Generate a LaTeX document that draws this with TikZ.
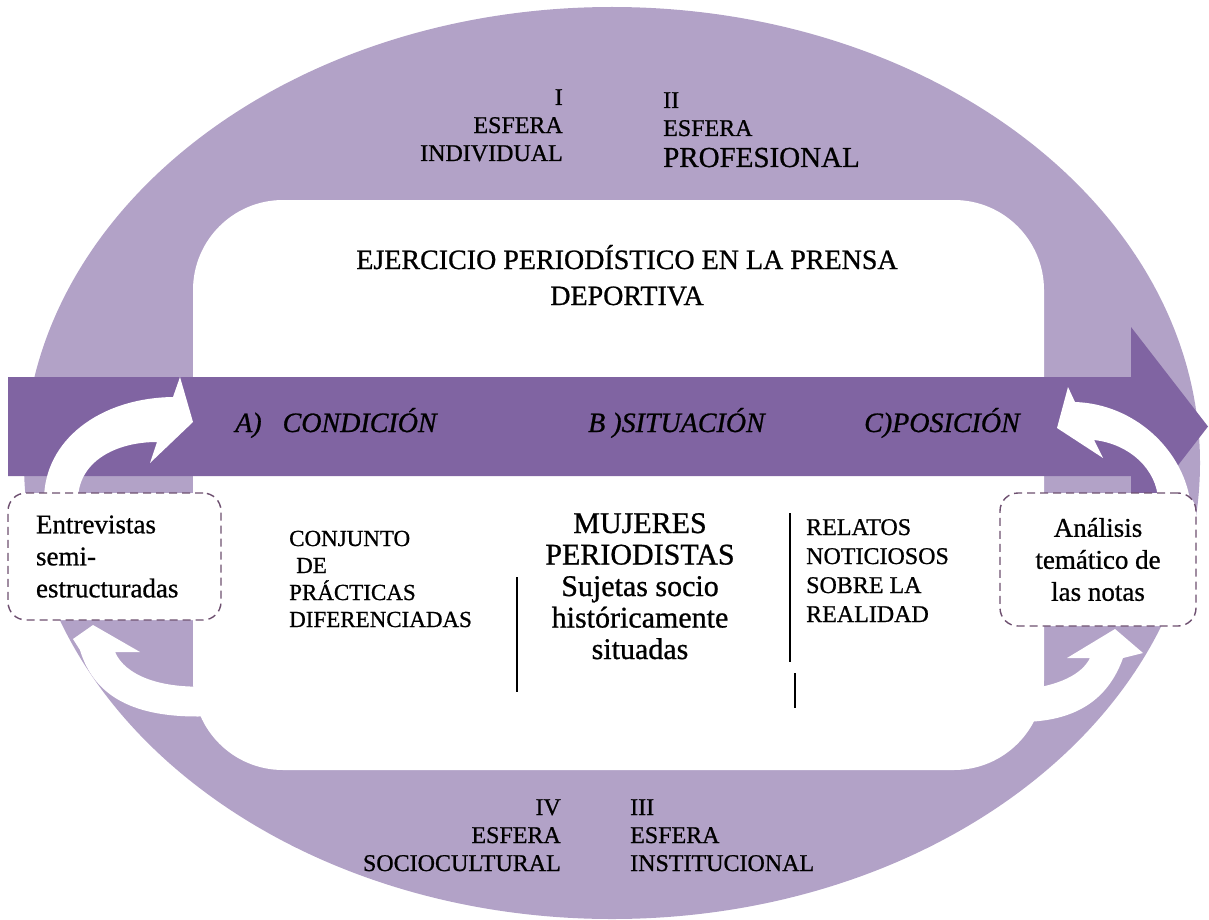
\documentclass[tikz,border=0pt]{standalone}
\usepackage{fontspec}
\setmainfont{Liberation Serif}[FakeBold=0.8]
\usetikzlibrary{positioning}

\definecolor{lila}{RGB}{178,162,199}
\definecolor{morado}{RGB}{128,100,162}
\definecolor{borde}{RGB}{110,80,112}

\tikzset{
  esfera/.style={inner sep=0pt, font=\fontsize{24}{28}\selectfont},
  etapa/.style={inner sep=0pt, anchor=base west, font=\fontsize{28}{34}\selectfont\itshape},
  columna/.style={inner sep=0pt, anchor=base west, align=left, font=\fontsize{23}{27}\selectfont},
  caja/.style={draw=borde, fill=white, line width=1.4pt, dash pattern=on 8pt off 5pt,
    rounded corners=18pt, font=\fontsize{27}{32}\selectfont, inner sep=0pt},
  flecha/.style={fill=white, draw=none},
  separador/.style={line width=1.3pt}
}

\begin{document}
\begin{tikzpicture}[x=1pt,y=-1pt]
  \useasboundingbox (0,0) rectangle (1209,920);

  % Fondo: elipse y zona central
  \fill[lila] (612,463) ellipse [x radius=588, y radius=456];
  \fill[white, rounded corners=90pt] (193,200) rectangle (1044,770);

  % Flecha horizontal
  \fill[morado] (8,377) -- (1131,377) -- (1131,327) -- (1208,426.5)
    -- (1131,526) -- (1131,476) -- (8,476) -- cycle;

  % Flechas curvas
  \fill[flecha] (44,540) -- (44,500) .. controls (44,440) and (100,398) .. (173,397)
    -- (180,377) -- (193,422) -- (150,463) -- (157,442)
    .. controls (115,442) and (78,462) .. (78,500) -- (78,540) -- cycle;
  \fill[flecha] (80,650) .. controls (95,700) and (140,720) .. (215,716)
    -- (215,686) .. controls (160,690) and (125,675) .. (115,652)
    -- (140,652) -- (93,625) -- (73,639) -- cycle;
  \fill[flecha] (1190,540) -- (1190,500) .. controls (1182,450) and (1135,404) .. (1075,402)
    -- (1068,387) -- (1057,428) -- (1103,458) -- (1094,440)
    .. controls (1130,444) and (1157,470) .. (1158,500) -- (1158,540) -- cycle;
  \fill[flecha] (1020,690) .. controls (1060,686) and (1082,674) .. (1090,658)
    -- (1067,658) -- (1115,629) -- (1143,653) -- (1123,658)
    .. controls (1108,700) and (1075,722) .. (1020,722) -- cycle;

  % Separadores
  \draw[separador] (517,577) -- (517,692);
  \draw[separador] (790,513) -- (790,662);
  \draw[separador] (795,673) -- (795,708);

  % Cajas de metodo
  \node[caja, minimum width=213pt, minimum height=127pt, text width=157pt, align=left]
    (entrevistas) at (114.5,556.5) {Entrevistas\\semi-\\estructuradas};
  \node[caja, minimum width=196pt, minimum height=133pt, align=center]
    (analisis) at (1098,559.5) {Análisis\\temático de\\las notas};

  % Esferas (anclas en la ultima linea)
  \node[esfera, anchor=base east, align=right] (esfI) at (563,161) {I\\ESFERA\\INDIVIDUAL};
  \node[esfera, anchor=base west, align=left] (esfII) at (663,167)
    {II\\ESFERA\\[3pt]{\fontsize{29}{29}\selectfont PROFESIONAL}};
  \node[esfera, anchor=base east, align=right] (esfIV) at (561,871) {IV\\ESFERA\\SOCIOCULTURAL};
  \node[esfera, anchor=base west, align=left] (esfIII) at (630,871) {III\\ESFERA\\INSTITUCIONAL};

  % Titulo
  \node[inner sep=0pt, anchor=base, align=center, font=\fontsize{28}{36}\selectfont]
    (titulo) at (627,305) {EJERCICIO PERIODÍSTICO EN LA PRENSA\\DEPORTIVA};

  % Etapas sobre la flecha
  \node[etapa] (condicion) at (235,432) {A)~~~CONDICIÓN};
  \node[etapa] (situacion) at (588,432) {B )SITUACIÓN};
  \node[etapa] (posicion) at (864,432) {C)POSICIÓN};

  % Columnas
  \node[columna] (practicas) at (289,627) {CONJUNTO\\\hspace{7pt}DE\\PRÁCTICAS\\DIFERENCIADAS};
  \node[inner sep=0pt, anchor=base, align=center, font=\fontsize{30}{31.5}\selectfont]
    (mujeres) at (640,659) {MUJERES\\PERIODISTAS\\Sujetas socio\\históricamente\\situadas};
  \node[columna, font=\fontsize{24}{29}\selectfont] (relatos) at (806,622)
    {RELATOS\\NOTICIOSOS\\SOBRE LA\\REALIDAD};
\end{tikzpicture}
\end{document}
